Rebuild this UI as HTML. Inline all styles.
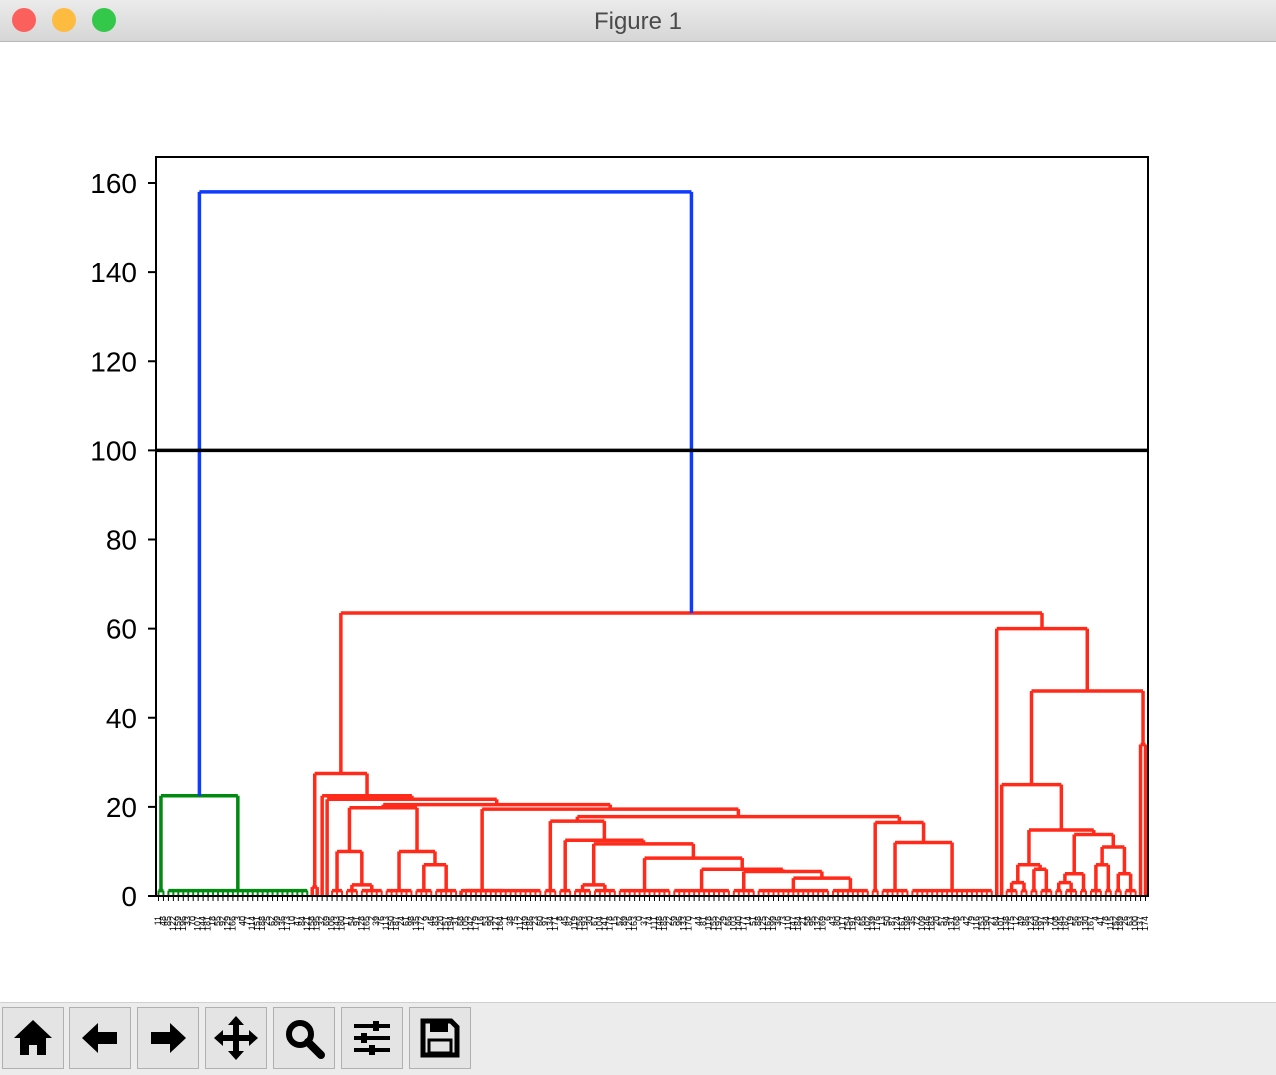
<!DOCTYPE html>
<html><head><meta charset="utf-8"><style>
body{margin:0;width:1276px;height:1074px;overflow:hidden;background:#fff;font-family:"Liberation Sans",sans-serif}
#title{position:absolute;left:0;top:0;width:1276px;height:41px;background:linear-gradient(#ebebeb,#d6d6d6);border-bottom:1px solid #b8b8b8}
#title span{position:absolute;left:0;right:0;top:8px;text-align:center;font-size:24px;color:#4a4a4a}
.dot{position:absolute;top:8px;width:24px;height:24px;border-radius:50%}
#tb{position:absolute;left:0;top:1002px;width:1276px;height:72px;background:#ececec;border-top:1px solid #d0d0d0}
.btn{position:absolute;top:4px;width:62px;height:62px;border:1px solid #b0b0b0;background:#e4e4e4;box-sizing:border-box}
</style></head><body>
<div id="title">
<div class="dot" style="left:12px;background:#fc605c"></div>
<div class="dot" style="left:52px;background:#fdbc40"></div>
<div class="dot" style="left:92px;background:#34c84a"></div>
<span>Figure 1</span></div>
<svg id="chart" width="1276" height="1074" style="position:absolute;left:0;top:0;pointer-events:none"></svg>
<div id="tb">
<div class="btn" style="left:2px"><svg width="60" height="60"><path d="M30 12 L11 30 H17 V47 H26 V37 H34 V47 H43 V30 H49 Z" fill="#000"/></svg></div>
<div class="btn" style="left:69px"><svg width="60" height="60"><path d="M12 30 L28 15 V24 H47 V36 H28 V45 Z" fill="#000"/></svg></div>
<div class="btn" style="left:137px"><svg width="60" height="60"><path d="M48 30 L32 15 V24 H13 V36 H32 V45 Z" fill="#000"/></svg></div>
<div class="btn" style="left:205px"><svg width="60" height="60"><path d="M30 8 L38 17 H33 V27 H43 V22 L52 30 L43 38 V33 H33 V43 H38 L30 52 L22 43 H27 V33 H17 V38 L8 30 L17 22 V27 H27 V17 H22 Z" fill="#000"/></svg></div>
<div class="btn" style="left:273px"><svg width="60" height="60"><circle cx="26" cy="26" r="11" fill="none" stroke="#000" stroke-width="6"/><path d="M34 34 L47 47" stroke="#000" stroke-width="8" stroke-linecap="round"/></svg></div>
<div class="btn" style="left:341px"><svg width="60" height="60"><g stroke="#000" stroke-width="4"><path d="M12 18H48M12 30H48M12 42H48"/></g><g fill="#000"><rect x="31" y="13" width="6" height="10"/><rect x="19" y="25" width="6" height="10"/><rect x="27" y="37" width="6" height="10"/></g></svg></div>
<div class="btn" style="left:409px"><svg width="60" height="60"><path d="M13 13 H41 L47 19 V47 H13 Z" fill="none" stroke="#000" stroke-width="5"/><rect x="20" y="14" width="18" height="10" fill="#000"/><rect x="19" y="32" width="22" height="13" fill="none" stroke="#000" stroke-width="3"/></svg></div>
</div>
<script>
// dendrogram tree: [height, left, right]; a number n = n leaves merged near zero
const greenTree = [22.5, 2, 29];
const redTree = [63.5,
  [27.5, [2, 1, 1],
    [22.5, 1,
      [21.7, 1,
        [20.5,
          [19.8, [10, 3, [2.5, 3, 5]], [10, 6, [7, 4, 5]]],
          [19.5, [1.2, 1, 16],
            [17.8,
              [16.8, 3, [12.5, 3, [11.7, [2.5, 4, 5], [8.5, 11, [6, 12, [5.5, 5, [4, 15, 8]]]]]]],
              [16.5, 2, [12, 6, 17]]]]]]]],
  [60, 1, [46, [25, 1,
      [14.8, [7, [3, 3, 2], [6, 2, 3]],
        [13.8, [5, [3, 2, 3], 2], [11, [7, 3, 2], [5, 2, 3]]]]],
    [34, 1, 1]]]];
const rootHeight = 158;
const cutHeight = 100;
const yTicks = [0, 20, 40, 60, 80, 100, 120, 140, 160];

const NS = 'http://www.w3.org/2000/svg';
const svg = document.getElementById('chart');
const X0 = 156, X1 = 1148, Y0 = 896, YT = 157;
const yS = v => Y0 - v * (Y0 - 183) / 160;
function count(t){return typeof t === 'number' ? t : count(t[1]) + count(t[2]);}
const N = count(greenTree) + count(redTree);
const sp = (X1 - X0) / N;
const xS = i => X0 + (i + 0.5) * sp;
let leaf = 0;
const labels = [];
function line(x1,y1,x2,y2,c,w){
  const l = document.createElementNS(NS,'line');
  l.setAttribute('x1',x1);l.setAttribute('y1',y1);l.setAttribute('x2',x2);l.setAttribute('y2',y2);
  l.setAttribute('stroke',c);l.setAttribute('stroke-width',w||3.5);
  
  
  svg.appendChild(l);
}
function link(a,b,h,c){
  line(a.x,yS(a.h),a.x,yS(h),c);line(a.x,yS(h),b.x,yS(h),c);line(b.x,yS(h),b.x,yS(b.h),c);
}
function lay(t,c){
  if(typeof t === 'number'){
    const s = leaf;
    for(let k=0;k<t;k++){labels.push(leaf);leaf++;}
    if(t===1) return {x:xS(s),h:0};
    const hh = 1.2;
    for(let k=s;k<s+t;k++) line(xS(k),yS(0),xS(k),yS(hh),c,2);
    line(xS(s),yS(hh),xS(s+t-1),yS(hh),c,3.5);
    return {x:(xS(s)+xS(s+t-1))/2,h:hh};
  }
  const a = lay(t[1],c), b = lay(t[2],c);
  link(a,b,t[0],c);
  return {x:(a.x+b.x)/2,h:t[0]};
}
const g = lay(greenTree,'#008a10');
const r = lay(redTree,'#ff2a1a');
link(g,r,rootHeight,'#0f3bff');
line(X0,yS(cutHeight),X1,yS(cutHeight),'#000',3.5);
const fr = document.createElementNS(NS,'rect');
fr.setAttribute('x',X0);fr.setAttribute('y',YT);fr.setAttribute('width',X1-X0);fr.setAttribute('height',Y0-YT);
fr.setAttribute('fill','none');fr.setAttribute('stroke','#000');fr.setAttribute('stroke-width',2);


svg.appendChild(fr);
yTicks.forEach(v=>{
  line(X0-8,yS(v),X0,yS(v),'#000',2);
  const t = document.createElementNS(NS,'text');
  t.setAttribute('x',X0-19);t.setAttribute('y',yS(v)+10);t.setAttribute('text-anchor','end');
  t.setAttribute('font-size','28');t.setAttribute('font-family','Liberation Sans, sans-serif');
  
  
  t.textContent = v; svg.appendChild(t);
});
labels.forEach((id,i)=>{
  line(xS(i),Y0,xS(i),Y0+5,'#000',1);
  const t = document.createElementNS(NS,'text');
  t.setAttribute('transform','translate('+(xS(i)+2.5)+','+(Y0+20)+') rotate(-90)');
  t.setAttribute('text-anchor','end');t.setAttribute('font-size','9');
  t.setAttribute('font-family','Liberation Sans, sans-serif');
  
  
  t.textContent = (id*37+11)%200; svg.appendChild(t);
});
</script>
</body></html>
